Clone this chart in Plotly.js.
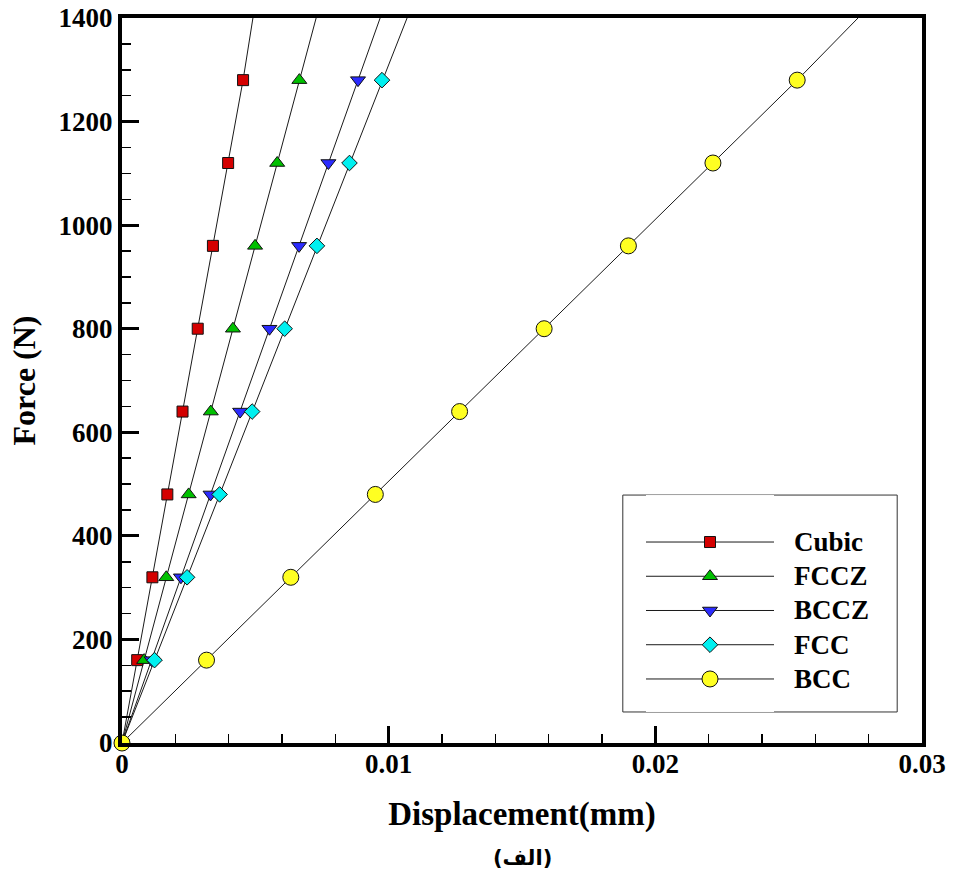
<!DOCTYPE html>
<html>
<head>
<meta charset="utf-8">
<script src="https://cdn.plot.ly/plotly-3.0.1.min.js"></script>
<style>html,body{margin:0;padding:0;background:#fff;}#chart{width:955px;height:877px;}</style>
</head>
<body>
<div id="chart"></div>
<script>
// Force levels (N) at the plotted markers
var forces = [0, 160, 320, 480, 640, 800, 960, 1120, 1280];
// Displacement (mm) of each lattice at those forces
var cubic = [0, 0.00057, 0.00114, 0.00170, 0.00227, 0.00284, 0.00341, 0.00398, 0.00454];
var fccz  = [0, 0.00083, 0.00166, 0.00250, 0.00333, 0.00416, 0.00499, 0.00582, 0.00665];
var bccz  = [0, 0.00111, 0.00221, 0.00332, 0.00443, 0.00553, 0.00664, 0.00774, 0.00885];
var fcc   = [0, 0.00122, 0.00244, 0.00366, 0.00488, 0.00610, 0.00731, 0.00853, 0.00975];
var bcc   = [0, 0.00317, 0.00633, 0.00950, 0.01266, 0.01583, 0.01899, 0.02216, 0.02532];
// Where each line leaves the top of the frame (force 1400 N)
var topForce = 1400;
var topDisp = [0.00491, 0.00728, 0.00968, 0.01069, 0.0276];

var names   = ['Cubic', 'FCCZ', 'BCCZ', 'FCC', 'BCC'];
var series  = [cubic, fccz, bccz, fcc, bcc];
var symbols = ['square', 'triangle-up', 'triangle-down', 'diamond', 'circle'];
var colors  = ['#d40000', '#00c000', '#2b2bff', '#00f0f0', '#ffff22'];
var sizes   = [11, 13, 13, 12, 16];

var xTickVals = [0, 0.01, 0.02, 0.03];
var xTickText = ['0', '0.01', '0.02', '0.03'];
var yTickVals = [0, 200, 400, 600, 800, 1000, 1200, 1400];

var serif = 'Liberation Serif, Times New Roman, serif';
var traces = [];
var annotations = [];

series.forEach(function (s, i) {
  traces.push({
    x: s.concat([topDisp[i]]), y: forces.concat([topForce]),
    mode: 'lines', type: 'scatter', showlegend: false, hoverinfo: 'skip',
    line: {color: '#1a1a1a', width: 1}
  });
});
series.forEach(function (s, i) {
  traces.push({
    x: s, y: forces, mode: 'markers', type: 'scatter', showlegend: false,
    cliponaxis: false, name: names[i],
    marker: {symbol: symbols[i], color: colors[i], size: sizes[i], line: {color: '#111', width: 1}}
  });
});
// custom legend drawn on a small auxiliary axis pair
names.forEach(function (n, i) {
  traces.push({
    x: [0, 1], y: [i, i], xaxis: 'x2', yaxis: 'y2', mode: 'lines', type: 'scatter',
    showlegend: false, hoverinfo: 'skip', line: {color: '#1a1a1a', width: 1}
  });
  traces.push({
    x: [0.5], y: [i], xaxis: 'x2', yaxis: 'y2', mode: 'markers', type: 'scatter',
    showlegend: false, hoverinfo: 'skip', cliponaxis: false,
    marker: {symbol: symbols[i], color: colors[i], size: sizes[i], line: {color: '#111', width: 1}}
  });
  annotations.push({
    xref: 'paper', yref: 'y2', x: 0.838, y: i, xanchor: 'left', yanchor: 'middle',
    text: n, showarrow: false, font: {family: serif, size: 27, color: '#000', weight: 'bold'}
  });
});
annotations.push({
  xref: 'paper', yref: 'paper', x: 0.5, y: -0.158, xanchor: 'center', yanchor: 'middle',
  text: '(الف)', showarrow: false, font: {family: 'DejaVu Sans, Noto Sans', size: 21, color: '#000', weight: 'bold'}
});

var layout = {
  width: 955, height: 877,
  margin: {l: 122, r: 33, t: 18, b: 134, pad: 0},
  paper_bgcolor: '#fff', plot_bgcolor: '#fff',
  showlegend: false,
  xaxis: {
    range: [0, 0.03], tickvals: xTickVals, ticktext: xTickText,
    ticks: 'inside', ticklen: 17, tickwidth: 3, tickcolor: '#000',
    minor: {dtick: 0.002, ticks: 'inside', ticklen: 9, tickwidth: 1.5, tickcolor: '#000', showgrid: false},
    showline: true, linewidth: 4, linecolor: '#000', mirror: true,
    showgrid: false, zeroline: false, ticklabelstandoff: -6,
    tickfont: {family: serif, size: 27, color: '#000', weight: 'bold'},
    title: {text: 'Displacement(mm)', font: {family: serif, size: 33, color: '#000', weight: 'bold'}, standoff: 24}
  },
  yaxis: {
    range: [0, 1400], tickvals: yTickVals,
    ticks: 'inside', ticklen: 17, tickwidth: 3, tickcolor: '#000',
    minor: {dtick: 50, ticks: 'inside', ticklen: 9, tickwidth: 1.5, tickcolor: '#000', showgrid: false},
    showline: true, linewidth: 4, linecolor: '#000', mirror: true,
    showgrid: false, zeroline: false,
    tickfont: {family: serif, size: 27, color: '#000', weight: 'bold'},
    title: {text: 'Force (N)', font: {family: serif, size: 32, color: '#000', weight: 'bold'}, standoff: 14}
  },
  xaxis2: {domain: [0.655, 0.815], range: [0, 1], visible: false, anchor: 'y2', fixedrange: true},
  yaxis2: {domain: [0.0428, 0.342], range: [4.964, -1.372], visible: false, anchor: 'x2', fixedrange: true},
  shapes: [{type: 'rect', xref: 'paper', yref: 'paper', x0: 0.626, x1: 0.969, y0: 0.0428, y1: 0.342,
            line: {color: '#333', width: 1}, fillcolor: 'rgba(0,0,0,0)', layer: 'below'}],
  annotations: annotations
};

Plotly.newPlot('chart', traces, layout, {displayModeBar: false, staticPlot: true});
</script>
</body>
</html>
